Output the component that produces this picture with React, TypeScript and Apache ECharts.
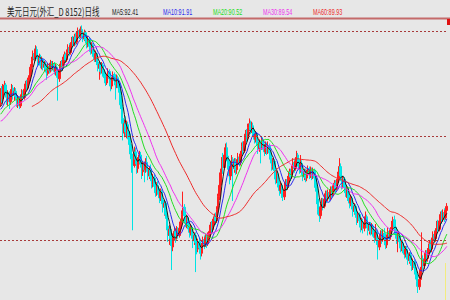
import React, { useEffect, useRef } from "react";
import * as echarts from "echarts";

const titleText = "美元日元(外汇_D 8152)日线";
const maLabels = ["MA5:92.41", "MA10:91.91", "MA20:90.52", "MA30:89.54", "MA60:89.93"];
const maPeriods = [5, 10, 20, 30, 60];
const maColors = ["#1a1a1a", "#2a2aee", "#22dd22", "#ee33ee", "#ee2a2a"];
const levels = [90, 100, 110];

// closes before the first visible bar (needed for the moving averages)
const priorCloses = [
  104.2, 103.9, 103.5, 103.6, 103.1,
  102.4, 101.6, 100.8, 100.1, 99.5, 99.2, 99.0, 99.3, 99.6, 100.0,
  100.6, 101.0, 101.5, 101.2, 101.8, 102.0, 101.7, 102.2, 102.0, 102.4,
  102.1, 102.6, 102.3, 101.9, 102.5, 102.8, 102.2, 102.0, 103.1,
];

// [open, close, low, high]
const rallyBars = [
  [103.1, 104.2, 102.8, 104.6], [104.2, 103.6, 103.2, 104.8], [103.6, 104.5, 103.3, 105.0], [104.5, 104.9, 104.0, 105.3],
  [104.9, 104.0, 103.7, 105.1], [104.0, 103.4, 103.0, 104.3], [103.4, 104.1, 102.9, 104.4], [104.1, 103.3, 102.6, 104.3],
  [103.3, 104.0, 103.0, 104.5], [104.0, 104.6, 103.6, 105.0], [104.6, 103.9, 103.5, 104.9], [103.9, 104.3, 103.4, 104.7],
  [104.3, 103.8, 103.5, 104.6], [103.8, 103.1, 102.8, 104.0], [103.1, 103.5, 102.7, 103.9], [103.5, 102.9, 102.6, 103.8],
  [102.9, 103.6, 102.7, 104.0], [103.6, 104.2, 103.3, 104.5], [104.2, 103.7, 103.4, 104.4], [103.7, 104.5, 103.5, 104.8],
  [104.5, 105.0, 104.2, 105.3], [105.0, 104.6, 104.3, 105.4], [104.6, 105.3, 104.4, 105.6], [105.3, 105.8, 105.0, 106.1],
  [105.8, 106.6, 105.5, 106.9], [106.6, 107.3, 106.3, 107.6], [107.3, 107.9, 107.0, 108.2], [107.9, 107.4, 107.1, 108.4],
  [107.4, 108.3, 107.2, 108.7], [108.3, 107.7, 107.4, 108.6], [107.7, 107.0, 106.7, 107.9], [107.0, 107.6, 106.8, 107.9],
  [107.6, 106.8, 106.5, 107.8], [106.8, 107.3, 106.4, 107.6], [107.3, 106.6, 106.3, 107.5], [106.6, 106.9, 106.2, 107.2],
  [106.9, 106.4, 106.1, 107.1], [106.4, 106.0, 105.4, 106.6], [106.0, 106.7, 105.8, 107.0], [106.7, 106.3, 106.0, 107.0],
  [106.3, 107.0, 106.1, 107.3], [107.0, 106.5, 106.2, 107.2], [106.5, 106.9, 106.3, 107.2], [106.9, 106.2, 105.9, 107.1],
  [106.2, 106.6, 105.8, 106.9], [106.6, 106.0, 105.6, 106.8], [106.0, 105.5, 103.4, 106.2], [105.5, 106.3, 105.2, 106.6],
  [106.3, 106.9, 106.0, 107.2], [106.9, 106.5, 106.2, 107.3], [106.5, 107.3, 106.3, 107.6], [107.3, 107.8, 107.0, 108.1],
  [107.8, 107.3, 107.0, 108.0], [107.3, 108.0, 107.1, 108.3], [108.0, 108.5, 107.7, 108.8], [108.5, 108.0, 107.7, 108.9],
  [108.0, 108.7, 107.8, 109.0], [108.7, 109.2, 108.4, 109.5], [109.2, 108.8, 108.4, 109.6], [108.8, 109.5, 108.6, 109.8],
  [109.5, 109.0, 108.7, 109.9], [109.0, 109.7, 108.8, 110.0], [109.7, 110.1, 109.4, 110.4], [110.1, 109.6, 109.3, 110.3],
  [109.6, 110.2, 109.4, 110.5], [110.2, 109.8, 109.5, 110.6], [109.8, 109.3, 109.0, 110.1], [109.3, 109.9, 109.1, 110.2],
  [109.9, 109.2, 108.9, 110.1], [109.2, 108.7, 108.4, 109.5], [108.7, 109.3, 108.5, 109.6], [109.3, 108.6, 108.2, 109.5],
  [108.6, 108.1, 107.8, 108.9], [108.1, 108.7, 107.9, 109.0], [108.7, 108.0, 107.6, 108.9], [108.0, 107.4, 107.1, 108.2],
  [107.4, 107.9, 107.1, 108.2], [107.9, 107.1, 106.8, 108.0], [107.1, 106.5, 106.2, 107.3], [106.5, 106.9, 105.4, 107.2],
  [106.9, 106.2, 105.9, 107.1], [106.2, 106.8, 106.0, 107.1], [106.8, 106.1, 105.7, 107.0], [106.1, 105.6, 105.2, 106.4],
  [105.6, 105.1, 104.8, 105.9], [105.1, 105.7, 104.9, 106.0], [105.7, 106.2, 105.4, 106.5], [106.2, 105.5, 105.2, 106.4],
  [105.5, 104.8, 104.3, 105.7], [104.8, 105.4, 104.5, 105.7], [105.4, 105.9, 105.1, 106.2], [105.9, 105.3, 105.0, 106.1],
  [105.3, 104.9, 103.5, 105.5], [104.9, 105.6, 104.6, 105.9], [105.6, 105.0, 104.6, 105.8], [105.0, 104.2, 103.8, 105.2],
];

const fallBars = [
  [104.2, 103.0, 102.6, 104.4], [103.0, 101.7, 101.2, 103.3], [101.7, 100.3, 99.6, 102.0], [100.3, 101.2, 99.9, 101.6],
  [101.2, 100.4, 100.0, 101.9], [100.4, 101.1, 99.8, 101.5], [101.1, 100.2, 99.7, 101.4], [100.2, 99.2, 98.6, 100.5],
  [99.2, 98.3, 97.8, 99.6], [98.3, 97.9, 96.5, 98.6], [97.9, 97.2, 91.0, 98.3], [97.2, 98.5, 97.0, 99.0],
  [98.5, 97.8, 97.3, 98.9], [97.8, 96.9, 96.4, 98.1], [96.9, 97.6, 96.5, 98.0], [97.6, 98.2, 97.3, 98.6],
  [98.2, 97.4, 97.0, 98.5], [97.4, 96.6, 95.9, 97.7], [96.6, 97.3, 96.2, 97.6], [97.3, 96.8, 95.6, 97.6],
  [96.8, 97.5, 96.5, 97.9], [97.5, 96.9, 96.6, 98.1], [96.9, 96.2, 95.8, 97.2], [96.2, 96.8, 95.9, 97.1],
  [96.8, 96.1, 95.7, 97.3], [96.1, 95.4, 95.0, 96.5], [95.4, 96.0, 95.1, 96.4], [96.0, 95.2, 94.8, 96.3],
  [95.2, 94.6, 94.2, 95.6], [94.6, 95.3, 94.3, 95.6], [95.3, 94.8, 94.4, 95.7], [94.8, 94.1, 93.6, 95.0],
  [94.1, 94.7, 93.8, 95.0], [94.7, 93.9, 93.5, 94.9], [93.9, 93.2, 92.7, 94.2], [93.2, 93.6, 92.4, 93.9],
  [93.6, 92.5, 92.1, 93.8], [92.5, 91.4, 91.0, 92.8], [91.4, 90.5, 89.9, 91.7], [90.5, 91.1, 89.6, 91.5],
  [91.1, 90.2, 89.5, 91.4], [90.2, 89.4, 87.2, 90.5], [89.4, 90.3, 89.0, 90.7], [90.3, 90.9, 90.0, 91.3],
  [90.9, 90.4, 89.8, 91.2], [90.4, 91.0, 90.1, 91.4], [91.0, 90.5, 90.2, 91.3], [90.5, 91.2, 90.3, 91.5],
  [91.2, 91.8, 90.9, 92.1], [91.8, 92.5, 91.5, 92.9], [92.5, 93.2, 92.2, 94.7], [93.2, 92.4, 92.0, 93.5],
  [92.4, 91.7, 91.3, 92.6], [91.7, 92.2, 91.2, 92.5], [92.2, 91.5, 91.1, 92.4], [91.5, 90.8, 90.3, 91.7],
  [90.8, 91.3, 90.5, 91.6], [91.3, 90.6, 90.2, 91.5], [90.6, 90.0, 89.3, 90.9], [90.0, 90.5, 89.6, 90.8],
  [90.5, 89.8, 87.0, 90.8], [89.8, 89.2, 88.7, 90.1], [89.2, 89.9, 88.9, 90.2], [89.9, 89.3, 88.8, 90.3],
  [89.3, 88.8, 88.2, 89.6], [88.8, 89.5, 88.5, 89.8], [89.5, 90.1, 89.2, 90.4], [90.1, 89.6, 89.2, 90.5],
  [89.6, 90.3, 89.4, 90.6], [90.3, 89.7, 89.3, 90.6], [89.7, 90.4, 89.5, 90.8], [90.4, 90.9, 90.1, 91.3],
];

const reboundBars = [
  [90.9, 91.5, 90.6, 91.8], [91.5, 91.1, 90.7, 91.9], [91.1, 91.8, 90.9, 92.1], [91.8, 92.3, 91.5, 92.6],
  [92.3, 91.9, 91.5, 92.7], [91.9, 93.0, 91.7, 93.3], [93.0, 94.2, 92.8, 94.5], [94.2, 95.3, 93.9, 95.7],
  [95.3, 96.5, 95.0, 96.9], [96.5, 97.6, 96.1, 98.0], [97.6, 97.0, 96.4, 98.4], [97.0, 98.2, 96.8, 98.7],
  [98.2, 98.9, 97.9, 99.3], [98.9, 98.1, 97.6, 99.4], [98.1, 97.3, 96.8, 98.5], [97.3, 96.2, 95.4, 97.6],
  [96.2, 97.1, 95.8, 97.5], [97.1, 97.8, 96.7, 98.2], [97.8, 96.9, 93.8, 98.0], [96.9, 97.6, 96.5, 97.9],
  [97.6, 96.8, 96.3, 97.9], [96.8, 97.4, 96.4, 97.8], [97.4, 98.0, 97.1, 98.4], [98.0, 97.5, 97.1, 98.3],
  [97.5, 98.3, 97.2, 98.6], [98.3, 99.0, 98.0, 99.4], [99.0, 98.6, 98.2, 99.5], [98.6, 99.5, 98.4, 99.9],
  [99.5, 100.2, 99.2, 100.6], [100.2, 99.8, 99.4, 100.7], [99.8, 100.8, 99.6, 101.2], [100.8, 101.2, 100.5, 101.7],
  [101.2, 100.6, 100.2, 101.5], [100.6, 101.0, 100.3, 101.4], [101.0, 100.4, 100.0, 101.3], [100.4, 99.7, 99.3, 100.6],
  [99.7, 100.2, 99.4, 100.5], [100.2, 99.5, 99.1, 100.4], [99.5, 98.8, 98.3, 99.7], [98.8, 99.4, 98.5, 99.7],
  [99.4, 98.9, 97.4, 99.6], [98.9, 99.6, 98.7, 99.9], [99.6, 99.1, 98.7, 99.9], [99.1, 98.5, 98.1, 99.3],
  [98.5, 99.2, 98.3, 99.5], [99.2, 98.6, 98.2, 99.4], [98.6, 99.1, 98.3, 99.5], [99.1, 98.4, 97.9, 99.3],
  [98.4, 97.8, 97.4, 98.6], [97.8, 97.1, 96.7, 98.0], [97.1, 97.6, 96.8, 97.9], [97.6, 96.7, 96.2, 97.8],
  [96.7, 95.9, 95.4, 96.9], [95.9, 96.4, 95.5, 96.7], [96.4, 95.5, 95.1, 96.6], [95.5, 94.8, 94.3, 95.7],
  [94.8, 95.3, 94.5, 95.6], [95.3, 94.6, 94.1, 95.5], [94.6, 94.2, 93.8, 94.9], [94.2, 94.9, 93.9, 95.2],
  [94.9, 95.6, 94.6, 95.9], [95.6, 95.1, 94.8, 95.9], [95.1, 95.9, 94.9, 96.2], [95.9, 96.6, 95.6, 96.9],
  [96.6, 96.1, 95.7, 96.9], [96.1, 96.9, 95.9, 97.2], [96.9, 97.5, 96.6, 97.9], [97.5, 96.9, 96.5, 97.8],
  [96.9, 97.6, 96.7, 98.0], [97.6, 98.2, 97.3, 98.6], [98.2, 97.5, 97.1, 98.4], [97.5, 96.8, 96.4, 97.8],
  [96.8, 97.4, 96.5, 98.2], [97.4, 96.7, 96.3, 97.7], [96.7, 96.1, 95.7, 97.0], [96.1, 96.6, 95.8, 96.9],
  [96.6, 96.0, 95.6, 96.9], [96.0, 96.5, 95.7, 96.8], [96.5, 96.9, 96.2, 97.2], [96.9, 96.3, 95.9, 97.1],
  [96.3, 96.8, 96.0, 97.1], [96.8, 96.2, 95.8, 97.0], [96.2, 96.7, 95.9, 97.0], [96.7, 96.0, 95.6, 96.9],
];

const slideBars = [
  [96.0, 95.1, 94.7, 96.2], [95.1, 94.0, 93.5, 95.3], [94.0, 93.0, 92.5, 94.2], [93.0, 92.4, 91.8, 93.3],
  [92.4, 93.2, 92.1, 93.5], [93.2, 93.8, 92.9, 94.1], [93.8, 93.3, 92.9, 94.1], [93.3, 94.0, 93.1, 94.3],
  [94.0, 94.5, 93.7, 94.8], [94.5, 94.0, 93.6, 94.8], [94.0, 94.6, 93.8, 94.9], [94.6, 94.2, 93.8, 94.9],
  [94.2, 94.9, 93.9, 95.2], [94.9, 94.4, 94.0, 95.2], [94.4, 95.0, 94.2, 95.3], [95.0, 95.5, 94.7, 95.8],
  [95.5, 95.0, 94.6, 95.8], [95.0, 95.6, 94.8, 95.9], [95.6, 96.3, 95.3, 96.6], [96.3, 97.1, 96.0, 97.9],
  [97.1, 96.2, 95.7, 97.4], [96.2, 95.4, 94.9, 96.5], [95.4, 95.9, 95.0, 96.2], [95.9, 95.1, 94.6, 96.1],
  [95.1, 94.6, 94.2, 95.4], [94.6, 95.0, 94.1, 95.3], [95.0, 94.2, 93.8, 95.2], [94.2, 93.6, 93.1, 94.5],
  [93.6, 94.1, 93.3, 94.4], [94.1, 93.4, 93.0, 94.3], [93.4, 92.8, 92.3, 93.6], [92.8, 93.3, 92.5, 93.6],
  [93.3, 92.6, 92.2, 93.5], [92.6, 92.0, 91.5, 92.9], [92.0, 92.5, 91.7, 92.8], [92.5, 91.9, 91.4, 92.7],
  [91.9, 91.3, 90.8, 92.2], [91.3, 91.8, 91.0, 92.2], [91.8, 91.2, 90.7, 92.1], [91.2, 91.7, 90.9, 92.0],
  [91.7, 92.3, 91.4, 92.8], [92.3, 91.6, 91.2, 92.5], [91.6, 91.0, 90.5, 91.9], [91.0, 91.5, 90.6, 91.8],
  [91.5, 90.9, 90.5, 91.8], [90.9, 91.4, 90.6, 91.7], [91.4, 90.8, 90.4, 91.6], [90.8, 90.3, 89.8, 91.1],
  [90.3, 90.8, 90.0, 91.6], [90.8, 90.1, 89.6, 91.1], [90.1, 89.4, 88.2, 90.3], [89.4, 90.0, 89.1, 90.4],
  [90.0, 90.6, 89.7, 91.0], [90.6, 90.1, 89.7, 91.0], [90.1, 90.7, 89.9, 91.1], [90.7, 90.2, 89.8, 91.2],
  [90.2, 89.6, 89.2, 90.5], [89.6, 90.3, 89.3, 90.6], [90.3, 90.9, 90.0, 91.3], [90.9, 90.4, 90.0, 91.2],
  [90.4, 91.0, 90.1, 91.3], [91.0, 91.6, 90.7, 91.9], [91.6, 92.0, 91.3, 92.3], [92.0, 91.3, 90.9, 92.4],
  [91.3, 90.6, 90.2, 91.6], [90.6, 90.1, 89.7, 90.9], [90.1, 90.5, 88.9, 90.8], [90.5, 89.9, 89.5, 90.8],
  [89.9, 89.3, 88.9, 90.2], [89.3, 89.8, 89.0, 90.1], [89.8, 89.2, 88.8, 90.1], [89.2, 88.7, 88.3, 89.5],
  [88.7, 89.2, 88.4, 89.5], [89.2, 88.6, 88.2, 89.5], [88.6, 88.1, 87.7, 88.9], [88.1, 88.6, 87.8, 88.9],
  [88.6, 88.0, 87.6, 88.9], [88.0, 87.5, 87.1, 88.3], [87.5, 88.0, 87.2, 88.3], [88.0, 87.4, 87.0, 88.2],
  [87.4, 86.8, 86.3, 87.7], [86.8, 86.1, 85.6, 87.0], [86.1, 85.6, 85.0, 86.4], [85.6, 86.3, 85.3, 86.6],
  [86.3, 87.2, 86.0, 87.5], [87.2, 88.3, 87.0, 90.8], [88.3, 87.6, 87.2, 88.6], [87.6, 88.2, 87.3, 88.5],
  [88.2, 88.8, 87.9, 89.1], [88.8, 88.3, 87.9, 89.1], [88.3, 89.0, 88.0, 89.3], [89.0, 89.7, 88.7, 90.0],
  [89.7, 89.2, 88.8, 90.1], [89.2, 90.0, 88.9, 90.3], [90.0, 90.6, 89.7, 90.9], [90.6, 90.2, 89.8, 91.0],
  [90.2, 90.9, 89.9, 91.2], [90.9, 91.6, 90.6, 91.9], [91.6, 91.1, 90.7, 92.0], [91.1, 91.9, 90.9, 92.2],
  [91.9, 92.5, 91.6, 92.8], [92.5, 92.0, 91.6, 92.9], [92.0, 92.7, 91.8, 93.0], [92.7, 92.2, 91.8, 93.1],
  [92.2, 92.9, 92.0, 93.3], [92.9, 93.3, 92.5, 93.6],
];

export default function App() {
  const ref = useRef<HTMLDivElement>(null);
  useEffect(() => {
    if (!ref.current) return;
    const chart = echarts.init(ref.current, undefined, { renderer: "svg" });
    const bars = [...rallyBars, ...fallBars, ...reboundBars, ...slideBars];
    const H = priorCloses.length;
    const closes = [...priorCloses, ...bars.map((b) => b[1])];
    const ma = (n: number) =>
      bars.map((_, i) => {
        const j = i + H;
        if (j - n + 1 < 0) return "-";
        let s = 0;
        for (let k = j - n + 1; k <= j; k++) s += closes[k];
        return +(s / n).toFixed(3);
      });
    const cats = bars.map((_, i) => String(i + 1));
    const labelX = [112, 163, 213, 263, 313];

    chart.setOption({
      animation: false,
      backgroundColor: "#e7e7e7",
      grid: { left: 0, right: 2.5, top: 18, bottom: 0 },
      xAxis: { type: "category", data: cats, boundaryGap: true, show: false },
      yAxis: { type: "value", min: 84.33, max: 111.31, show: false },
      series: [
        {
          type: "candlestick",
          data: bars,
          barWidth: 1.8,
          itemStyle: {
            color: "#ff2020",
            color0: "#00eeee",
            borderColor: "#ff2020",
            borderColor0: "#00e4e4",
            borderWidth: 1,
          },
          markLine: {
            silent: true,
            symbol: "none",
            label: { show: false },
            lineStyle: { color: "#a83a3a", type: [2, 2], width: 1 },
            data: levels.map((v) => ({ yAxis: v })),
          },
        },
        ...maPeriods.map((p, k) => ({
          type: "line",
          name: "MA" + p,
          data: ma(p),
          showSymbol: false,
          symbol: "none",
          lineStyle: { color: maColors[k], width: 1 },
          z: 3 + k,
        })),
      ],
      graphic: [
        {
          type: "line",
          shape: { x1: 0, y1: 18.5, x2: 450, y2: 18.5 },
          style: { stroke: "#c46a6a", lineWidth: 2 },
        },
        {
          type: "rect",
          shape: { x: 447, y: 19, width: 3, height: 6 },
          style: { fill: "#e01010" },
        },
        {
          type: "line",
          shape: { x1: 445.5, y1: 263, x2: 445.5, y2: 300 },
          style: { stroke: "#f2ec80", lineWidth: 1 },
        },
        {
          type: "text",
          x: 7,
          y: 11.5,
          scaleX: 0.68,
          style: {
            text: titleText,
            fill: "#1e1e1e",
            fontSize: 11,
            fontFamily: "Noto Sans CJK SC",
            verticalAlign: "middle",
            align: "left",
          },
        },
        ...maLabels.map((t, k) => ({
          type: "text",
          x: labelX[k],
          y: 12,
          scaleX: 0.57,
          style: {
            text: t,
            fill: maColors[k],
            fontSize: 9.5,
            fontFamily: "Liberation Sans",
            verticalAlign: "middle",
            align: "left",
          },
        })),
      ],
    });
    return () => chart.dispose();
  }, []);
  return (
    <div
      ref={ref}
      style={{ position: "absolute", left: 0, top: 0, width: 450, height: 300 }}
    />
  );
}
